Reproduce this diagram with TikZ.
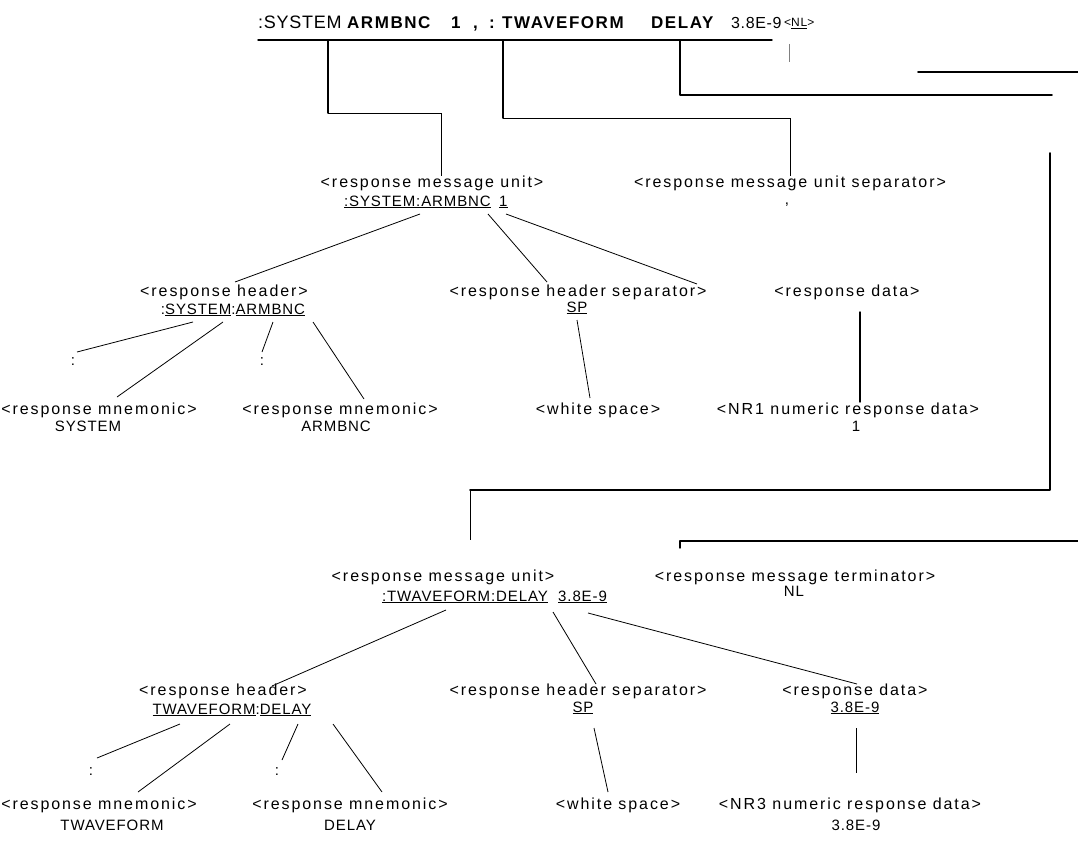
\documentclass[tikz,border=0pt]{standalone}
\usepackage{fontspec}
\setmainfont{Liberation Sans}
\newfontfamily\lblfont[LetterSpace=12]{Liberation Sans}
\newfontfamily\valfont[LetterSpace=6]{Liberation Sans}
\newfontfamily\topfont[LetterSpace=4]{Liberation Sans}
\newfontfamily\topbold[LetterSpace=9]{Liberation Sans Bold}
\begin{document}
\begin{tikzpicture}[x=1pt,y=-1pt,
  lbl/.style={anchor=base,inner sep=0pt,font=\lblfont\fontsize{16}{18}\selectfont},
  val/.style={anchor=base,inner sep=0pt,font=\valfont\fontsize{15}{17}\selectfont},
  topw/.style={anchor=base west,inner sep=0pt,font=\topfont\fontsize{18}{20}\selectfont},
  topb/.style={anchor=base west,inner sep=0pt,font=\topbold\fontsize{17}{20}\selectfont},
  bus/.style={line width=1.8pt,line cap=round,line join=round},
  lead/.style={line width=0.8pt},
  leadthin/.style={line width=0.5pt}]
\useasboundingbox (0,0) rectangle (1078,840);

% ---- top message ----
\node[topw] (t1) at (258,29) {:SYSTEM};
\node[topb] (t2) at (347,29) {ARMBNC};
\node[topb] (t3) at (451,29) {1};
\node[topb] (t4) at (473,29) {,};
\node[topb] (t5) at (489,29) {:};
\node[topb] (t6) at (502,29) {TWAVEFORM};
\node[topb] (t7) at (651,29) {DELAY};
\node[topw,font=\topfont\fontsize{16}{18}\selectfont] (t8) at (731,29) {3.8E-9};
\node[anchor=base west,inner sep=0pt,font=\valfont\fontsize{12}{14}\selectfont] (t9) at (784,27) {<\underline{NL}>};
\draw[bus,line width=1.4pt] (258,40) -- (772,40);

\coordinate (b1a) at (328,40); \coordinate (b1b) at (328,113);
\coordinate (b2a) at (503,40); \coordinate (b2b) at (503,118);
\coordinate (b3a) at (680,40); \coordinate (b3b) at (680,95); \coordinate (b3c) at (1052,95);
\coordinate (b4a) at (918,72); \coordinate (b4b) at (1078,72);
\coordinate (nla) at (789,44); \coordinate (nlb) at (789,62);
\coordinate (b5a) at (1050,153); \coordinate (b5b) at (1050,490); \coordinate (b5c) at (470,490);
\coordinate (b6a) at (680,548); \coordinate (b6b) at (680,541); \coordinate (b6c) at (1078,541);

% ---- upper tree ----
\node[lbl] (mu1l) at (432,187) {<response message unit>};
\node[val,anchor=base east] (mu1v) at (491,206) {\underline{:SYSTEM:ARMBNC}};
\node[val,anchor=base west] (mu1d) at (499,206) {\underline{1}};
\node[lbl] (sepl) at (790,187) {<response message unit separator>};
\node[val] (sepv) at (787,204) {,};

\draw[bus] (b1a) -- (b1b);
\draw[lead] (b1b) -- (441,113) -- (441,176);
\draw[bus] (b2a) -- (b2b);
\draw[lead] (b2b) -- (790,118) -- (790,176);
\draw[bus] (b3a) -- (b3b) -- (b3c);
\draw[bus] (b4a) -- (b4b);
\draw[leadthin,gray] (nla) -- (nlb);
\draw[bus] (b5a) -- (b5b) -- (b5c);
\draw[lead] (b5c) -- (470,540);
\draw[bus,line width=1.4pt] (b6a) -- (b6b) -- (b6c);

\node[lbl] (h1l) at (224,296) {<response header>};
\node[val] (h1v) at (233,314) {:\underline{SYSTEM}:\underline{ARMBNC}};
\node[lbl] (s1l) at (578,296) {<response header separator>};
\node[val] (s1v) at (577,312) {\underline{SP}};
\node[lbl] (d1l) at (847,296) {<response data>};

\draw[lead] (420,214) -- (235,282);
\draw[lead] (488,214) -- (547,282);
\draw[lead] (506,214) -- (697,284);

\node[val] (c1a) at (73,365) {:};
\node[val] (c1b) at (262,365) {:};
\node[lbl] (m1a) at (99,414) {<response mnemonic>};
\node[val] (m1av) at (88,431) {SYSTEM};
\node[lbl] (m1b) at (340,414) {<response mnemonic>};
\node[val] (m1bv) at (336,431) {ARMBNC};
\node[lbl] (w1) at (598,414) {<white space>};
\node[lbl] (n1) at (848,414) {<NR1 numeric response data>};
\node[val] (n1v) at (856,431) {1};

\draw[lead] (193,322) -- (77,352);
\draw[lead] (223,322) -- (117,397);
\draw[lead] (273,322) -- (262,352);
\draw[lead] (313,322) -- (364,399);
\draw[lead] (577,320) -- (590,398);
\draw[bus,line width=1.4pt] (860,312) -- (860,402);

% ---- lower tree ----
\node[lbl] (mu2l) at (443,581) {<response message unit>};
\node[val,anchor=base east] (mu2v) at (548,601) {\underline{:TWAVEFORM:DELAY}};
\node[val,anchor=base west] (mu2d) at (558,601) {\underline{3.8E-9}};
\node[lbl] (tml) at (795,581) {<response message terminator>};
\node[val] (tmv) at (794,596) {NL};

\draw[lead] (446,610) -- (272,686);
\draw[lead] (553,612) -- (596,684);
\draw[lead] (588,613) -- (857,684);

\node[lbl] (h2l) at (223,695) {<response header>};
\node[val] (h2v) at (232,714) {\underline{TWAVEFORM}:\underline{DELAY}};
\node[lbl] (s2l) at (578,695) {<response header separator>};
\node[val] (s2v) at (583,712) {\underline{SP}};
\node[lbl] (d2l) at (855,695) {<response data>};
\node[val] (d2v) at (855,712) {\underline{3.8E-9}};

\draw[lead] (180,724) -- (97,758);
\draw[lead] (230,724) -- (138,792);
\draw[lead] (298,724) -- (282,760);
\draw[lead] (333,724) -- (382,792);
\draw[lead] (594,728) -- (608,792);
\draw[lead] (856,728) -- (856,773);

\node[val] (c2a) at (91,775) {:};
\node[val] (c2b) at (277,775) {:};
\node[lbl] (m2a) at (99,809) {<response mnemonic>};
\node[val] (m2av) at (112,830) {TWAVEFORM};
\node[lbl] (m2b) at (350,809) {<response mnemonic>};
\node[val] (m2bv) at (350,830) {DELAY};
\node[lbl] (w2) at (618,809) {<white space>};
\node[lbl] (n2) at (850,809) {<NR3 numeric response data>};
\node[val] (n2v) at (856,830) {3.8E-9};
\end{tikzpicture}
\end{document}
